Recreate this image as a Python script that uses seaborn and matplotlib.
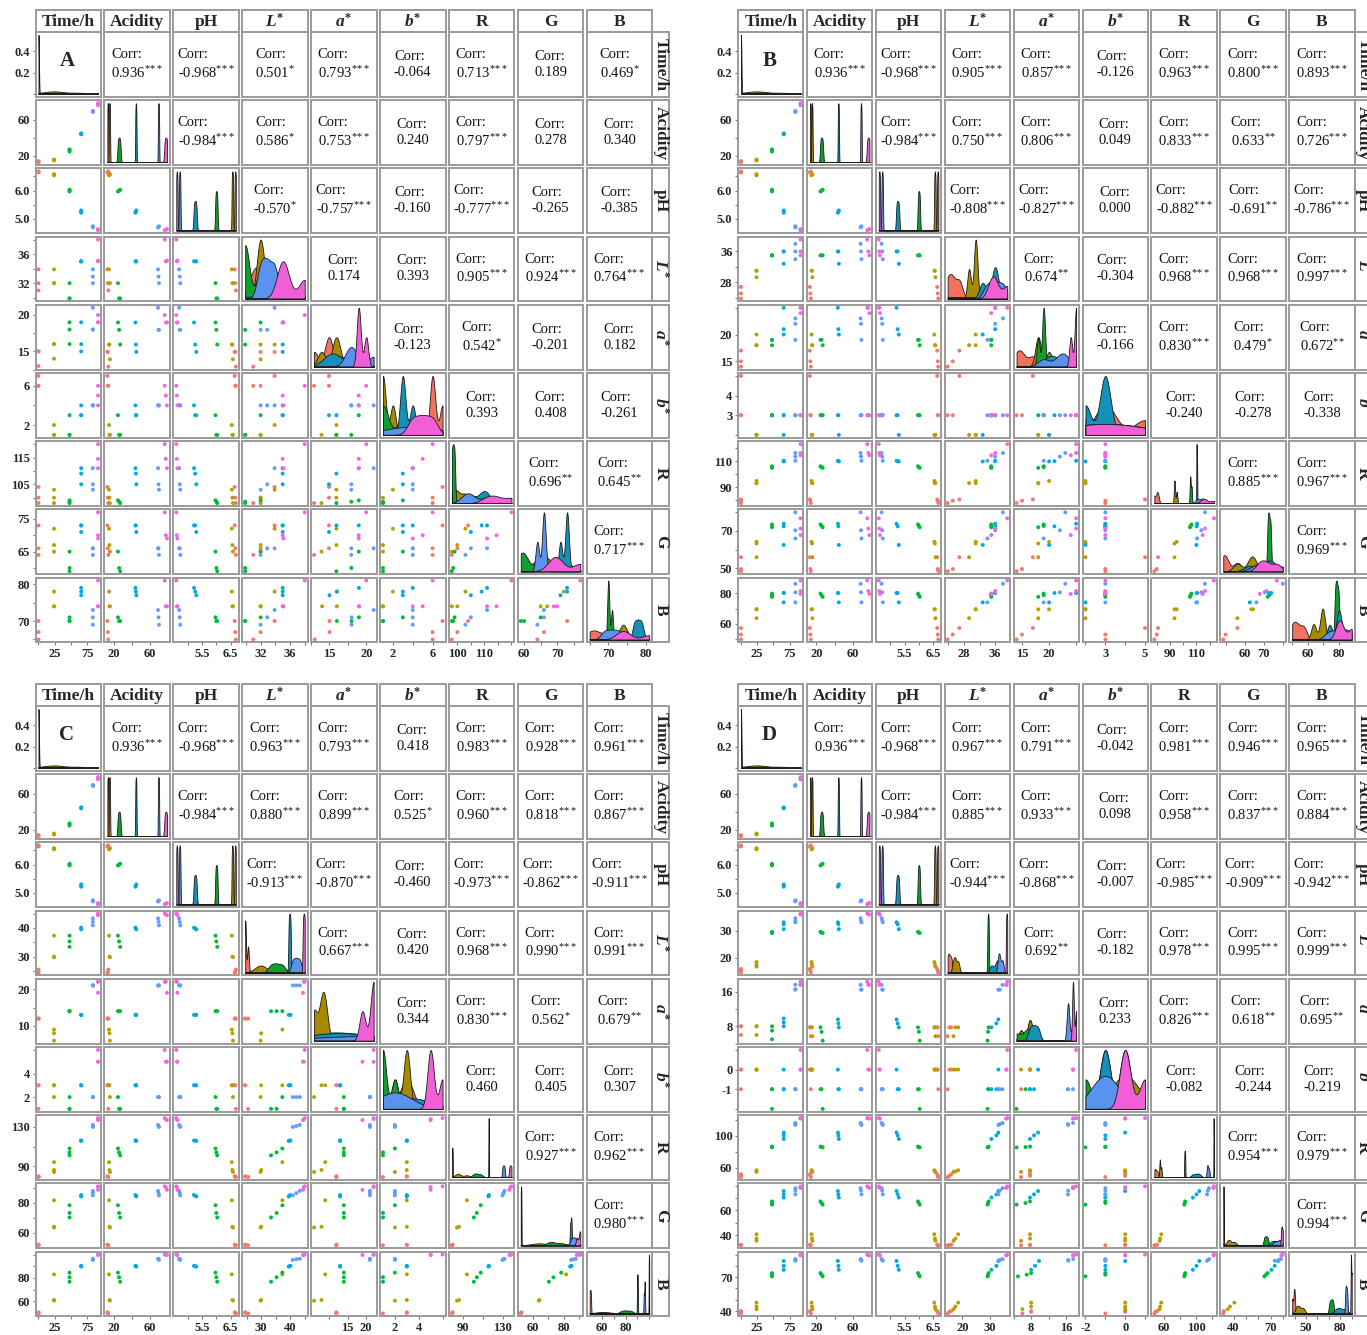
import numpy as np
import pandas as pd
import matplotlib.pyplot as plt
import seaborn as sns

sns.set_theme(style='ticks')
plt.rcParams['font.family'] = ['Liberation Serif', 'DejaVu Serif']
plt.rcParams['mathtext.fontset'] = 'custom'
plt.rcParams['mathtext.rm'] = 'Liberation Serif'
plt.rcParams['mathtext.it'] = 'Liberation Serif:italic:bold'
plt.rcParams['mathtext.bf'] = 'Liberation Serif:bold'

# ---------------- data ----------------
variables = ['Time/h', 'Acidity', 'pH', 'L*', 'a*', 'b*', 'R', 'G', 'B']
strip_labels = ['Time/h', 'Acidity', 'pH', r'$L^{\mathbf{*}}$', r'$a^{\mathbf{*}}$',
                r'$b^{\mathbf{*}}$', 'R', 'G', 'B']
group_names = ['0', '24', '48', '66', '84', '92']
groups = [g for g in group_names for _ in range(3)]
point_colors = ['#F8766D', '#B79F00', '#00BA38', '#00A9E0', '#619CFF', '#F564E3']
fill_colors = ['#F4705F', '#A68A00', '#0E9F2E', '#1590B8', '#5A92F0', '#F05FD8']

time_h = [0, 0, 0, 24, 24, 24, 48, 48, 48, 66, 66, 66, 84, 84, 84, 92, 92, 92]
acidity = [13.0, 13.5, 14.0, 14.8, 15.3, 15.8, 24.6, 25.8, 27.0,
           43.7, 44.2, 44.7, 68.5, 69.0, 69.5, 75.8, 77.0, 78.2]
ph = [6.64, 6.66, 6.68, 6.54, 6.56, 6.58, 5.97, 6.0, 6.03,
      5.22, 5.26, 5.30, 4.70, 4.72, 4.74, 4.60, 4.62, 4.64]

# panel A
L_A = [33.9, 32.0, 31.0, 33.9, 32.0, 32.0, 32.0, 29.9, 29.9, 35.0, 35.0, 35.0, 33.9, 32.9, 32.0, 38.0, 35.0, 35.1]
a_A = [15, 15, 13, 16, 16, 14, 19, 18, 16, 19, 16, 15, 21, 18, 18, 20, 19, 19]
b_A = [7, 6, 6, 2, 1, 1, 3, 1, 1, 4, 3, 3, 4, 4, 4, 6, 5, 4]
R_A = [104, 100, 98, 103, 100, 98, 99, 98.5, 98, 111, 109, 105, 111, 105, 103, 120, 114.5, 111]
G_A = [73, 66, 64, 72, 67, 65, 65, 60, 59, 73, 73, 71, 66, 66, 64, 77, 70, 69]
B_A = [70, 67, 65, 78, 74, 74, 71, 70, 70, 79, 78, 77, 73, 71, 69, 81, 74, 74]

# panel B
L_B = [26.8, 25.1, 23.8, 31.0, 31.0, 29.3, 35, 35, 35, 36, 36, 32.8, 38, 36, 34, 39.1, 36, 35]
a_B = [17, 15, 14, 20, 18, 18, 19, 19, 18, 25, 21, 20, 23, 22, 19, 25, 25, 24]
b_B = [5, 3, 3, 2, 2, 2, 3, 3, 3, 3, 3, 2, 3, 3, 3, 3, 3, 3]
R_B = [80.8, 79.8, 78.0, 95.0, 93.3, 93.3, 106.3, 105.5, 105.1, 110.5, 110.2, 110.0,
       116.5, 113.7, 110.5, 123.3, 116.5, 114.7]
G_B = [55.9, 49.6, 48.4, 64.2, 63.3, 55.9, 73.5, 72.7, 72.0, 73.9, 72.5, 62.5, 80.0, 70.4, 66.0, 76.8, 71.3, 67.8]
B_B = [57.3, 53.1, 49.9, 69.5, 69.5, 63.7, 79.7, 78.6, 77.6, 80.1, 80.1, 74.0, 86.1, 80.5, 74.0, 88.2, 81.4, 79.5]

# panel C
L_C = [24.5, 24.5, 25.5, 37.3, 30.0, 29.8, 37.3, 35.3, 33.4, 40.1, 39.8, 39.5, 43.3, 42.1, 40.9, 45.0, 44.7, 44.4]
a_C = [12, 12, 12, 9, 8, 6, 14, 14, 14, 13, 13, 13, 21, 21, 21, 22, 22, 19]
b_C = [3, 3, 1, 3, 3, 2, 2, 1, 1, 3, 3, 3, 2, 2, 2, 6, 5, 5]
R_C = [79.6, 79.2, 78.8, 94, 86, 84, 108, 104, 101, 116.2, 116.0, 115.8, 132, 131, 130, 139, 138, 137]
G_C = [52.2, 52.0, 51.8, 81.7, 64.1, 63.6, 78.4, 73.3, 70.3, 85.2, 84.8, 84.3, 88.0, 86.5, 85.0, 91.0, 90.5, 88.7]
B_C = [50.5, 50.0, 49.5, 83.0, 61.0, 60.5, 84.5, 80.5, 76.7, 90.3, 90.0, 89.7, 96.3, 96.0, 95.4, 100.0, 99.8, 99.6]

# panel D
L_D = [16.0, 15.3, 14.7, 18.5, 17.5, 16.8, 29.5, 29.3, 29.1, 33.0, 32.3, 30.5, 34.5, 33.5, 33.0, 36.2, 36.0, 35.8]
a_D = [8, 8, 6, 8, 8, 6, 8, 7, 5, 9.8, 8.9, 8.0, 17.6, 16.5, 16.5, 18.3, 17.6, 17.6]
b_D = [0, 0, -1, 0, 0, 0, -1, -1, -2, 0, -1, -1, -1, -1, -1, 1, 0, 0]
R_D = [52, 50, 48.5, 57, 55.5, 55, 86.5, 86, 85.5, 104, 100.5, 96, 116, 114.5, 113.5, 122, 121.7, 121.5]
G_D = [32.2, 32.0, 31.8, 40.7, 37.2, 35.4, 67.3, 66.0, 64.7, 75.7, 73.0, 70.4, 78.0, 76.0, 73.0, 79.5, 78.8, 78.2]
B_D = [40.0, 39.4, 37.9, 47.5, 44.0, 41.7, 73.6, 72.2, 70.7, 84.3, 80.0, 76.5, 86.0, 85.2, 84.5, 90.0, 89.5, 89.2]

# correlation labels (upper triangle, row by row)
corr_A = ['0.936***', '-0.968***', '0.501*', '0.793***', '-0.064', '0.713***', '0.189', '0.469*',
          '-0.984***', '0.586*', '0.753***', '0.240', '0.797***', '0.278', '0.340',
          '-0.570*', '-0.757***', '-0.160', '-0.777***', '-0.265', '-0.385',
          '0.174', '0.393', '0.905***', '0.924***', '0.764***',
          '-0.123', '0.542*', '-0.201', '0.182',
          '0.393', '0.408', '-0.261',
          '0.696**', '0.645**',
          '0.717***']
corr_B = ['0.936***', '-0.968***', '0.905***', '0.857***', '-0.126', '0.963***', '0.800***', '0.893***',
          '-0.984***', '0.750***', '0.806***', '0.049', '0.833***', '0.633**', '0.726***',
          '-0.808***', '-0.827***', '0.000', '-0.882***', '-0.691**', '-0.786***',
          '0.674**', '-0.304', '0.968***', '0.968***', '0.997***',
          '-0.166', '0.830***', '0.479*', '0.672**',
          '-0.240', '-0.278', '-0.338',
          '0.885***', '0.967***',
          '0.969***']
corr_C = ['0.936***', '-0.968***', '0.963***', '0.793***', '0.418', '0.983***', '0.928***', '0.961***',
          '-0.984***', '0.880***', '0.899***', '0.525*', '0.960***', '0.818***', '0.867***',
          '-0.913***', '-0.870***', '-0.460', '-0.973***', '-0.862***', '-0.911***',
          '0.667***', '0.420', '0.968***', '0.990***', '0.991***',
          '0.344', '0.830***', '0.562*', '0.679**',
          '0.460', '0.405', '0.307',
          '0.927***', '0.962***',
          '0.980***']
corr_D = ['0.936***', '-0.968***', '0.967***', '0.791***', '-0.042', '0.981***', '0.946***', '0.965***',
          '-0.984***', '0.885***', '0.933***', '0.098', '0.958***', '0.837***', '0.884***',
          '-0.944***', '-0.868***', '-0.007', '-0.985***', '-0.909***', '-0.942***',
          '0.692**', '-0.182', '0.978***', '0.995***', '0.999***',
          '0.233', '0.826***', '0.618**', '0.695**',
          '-0.082', '-0.244', '-0.219',
          '0.954***', '0.979***',
          '0.994***']

# ticks: (positions, labelled on y axis, labelled on x axis)
ticks_shared = {'Time/h': ([0, 25, 50, 75], [], [25, 75]),
                'Acidity': ([20, 40, 60], [20, 60], [20, 60]),
                'pH': ([5.0, 5.5, 6.0, 6.5], [5.0, 6.0], [5.5, 6.5])}
ticks_A = {'L*': ([30, 32, 34, 36, 38], [32, 36], [32, 36]),
           'a*': ([12.5, 15, 17.5, 20], [15, 20], [15, 20]),
           'b*': ([2, 4, 6], [2, 6], [2, 6]),
           'R': ([100, 105, 110, 115, 120], [105, 115], [100, 110]),
           'G': ([60, 65, 70, 75], [65, 75], [60, 70]),
           'B': ([65, 70, 75, 80], [70, 80], [70, 80])}
ticks_B = {'L*': ([24, 28, 32, 36], [28, 36], [28, 36]),
           'a*': ([15, 20, 25], [15, 20], [15, 20]),
           'b*': ([2, 3, 4, 5], [3, 4], [3, 5]),
           'R': ([80, 90, 100, 110, 120], [90, 110], [90, 110]),
           'G': ([50, 60, 70, 80], [50, 70], [60, 70]),
           'B': ([50, 60, 70, 80], [60, 80], [60, 80])}
ticks_C = {'L*': ([25, 30, 35, 40, 45], [30, 40], [30, 40]),
           'a*': ([10, 15, 20], [10, 20], [15, 20]),
           'b*': ([2, 4, 6], [2, 4], [2, 4]),
           'R': ([90, 110, 130], [90, 130], [90, 130]),
           'G': ([60, 70, 80, 90], [60, 80], [60, 80]),
           'B': ([60, 70, 80, 90, 100], [60, 80], [60, 80])}
ticks_D = {'L*': ([20, 30], [20, 30], [20, 30]),
           'a*': ([4, 8, 12, 16], [8, 16], [8, 16]),
           'b*': ([-2, -1, 0, 1], [-1, 0], [-2, 0]),
           'R': ([60, 80, 100, 120], [60, 100], [60, 100]),
           'G': ([40, 50, 60, 70, 80], [40, 60], [40, 70]),
           'B': ([40, 50, 60, 70, 80, 90], [40, 70], [50, 80])}

panels = [
    ('A', (35.5, 10), [L_A, a_A, b_A, R_A, G_A, B_A], ticks_A, corr_A),
    ('B', (738, 10), [L_B, a_B, b_B, R_B, G_B, B_B], ticks_B, corr_B),
    ('C', (35.5, 684), [L_C, a_C, b_C, R_C, G_C, B_C], ticks_C, corr_C),
    ('D', (738, 684), [L_D, a_D, b_D, R_D, G_D, B_D], ticks_D, corr_D),
]

# ---------------- layout ----------------
W, H = 1367, 1335
PX, PY = 68.9, 68.2
CW, CH = 65.5, 64.8
STRIP, RSW = 22, 17
BORDER = '#9a9a9a'

fig = plt.figure(figsize=(W / 100, H / 100), dpi=100)


def box(x, y, w, h):
    return [x / W, 1 - (y + h) / H, w / W, h / H]


def nrd0(x):
    # R's default bandwidth rule (as used by geom_density)
    hi = np.std(x, ddof=1)
    q75, q25 = np.percentile(x, [75, 25])
    lo = min(hi, (q75 - q25) / 1.34)
    if not lo:
        lo = hi or abs(x[0]) or 1.0
    return 0.9 * lo * len(x) ** -0.2


def density(vals, lo, hi):
    grid = np.linspace(lo, hi, 512)
    bw = nrd0(vals)
    d = np.exp(-0.5 * ((grid[:, None] - vals[None, :]) / bw) ** 2).sum(1)
    return grid, d / (len(vals) * bw * np.sqrt(2 * np.pi))


def fmt(var, v):
    return f'{v:.1f}' if var == 'pH' else f'{v:g}'


def style_box(ax):
    for s in ax.spines.values():
        s.set_visible(True)
        s.set_color(BORDER)
        s.set_linewidth(1.4)


for letter, (ox, oy), extra, tk, corrs in panels:
    df = pd.DataFrame(dict(zip(variables, [time_h, acidity, ph] + extra)))
    df['group'] = groups
    ticks = {**ticks_shared, **tk}
    rng = {v: (df[v].min(), df[v].max()) for v in variables}
    lims = {v: (lo - 0.05 * (hi - lo), hi + 0.05 * (hi - lo)) for v, (lo, hi) in rng.items()}
    k = 0
    for i, vy in enumerate(variables):
        for j, vx in enumerate(variables):
            ax = fig.add_axes(box(ox + j * PX, oy + STRIP + i * PY, CW, CH))
            style_box(ax)
            if i > j:
                sns.scatterplot(data=df, x=vx, y=vy, hue='group', hue_order=group_names,
                                palette=dict(zip(group_names, point_colors)),
                                s=8, linewidth=0, legend=False, ax=ax)
                ax.set_ylim(lims[vy])
                ax.set_xlim(lims[vx])
            elif i == j:
                ymax = 0
                for g, c in zip(group_names, fill_colors):
                    vals = df.loc[df['group'] == g, vx].to_numpy(float)
                    xs, d = density(vals, *rng[vx])
                    ax.fill_between(xs, 0, d, facecolor=c, edgecolor='#1a1a1a', linewidth=0.6)
                    ymax = max(ymax, d.max())
                ax.set_ylim(-0.05 * ymax, 1.05 * ymax)
                ax.set_xlim(lims[vx])
                if i == 0:
                    ax.text(0.48, 0.55, letter, transform=ax.transAxes, ha='center', va='center',
                            fontsize=15, fontweight='bold')
            else:
                s = corrs[k]
                k += 1
                val = s.rstrip('*')
                stars = s[len(val):]
                label = f'Corr:\n{val}'
                if stars:
                    label += '$^{' + r'\!'.join(stars) + '}$'
                ax.text(0.5, 0.5, label, transform=ax.transAxes, ha='center', va='center',
                        multialignment='left', fontsize=10.5, linespacing=1.3, color='#111111')
            ax.set_xlabel('')
            ax.set_ylabel('')

            # axis ticks on the outer cells only
            if j == 0 and i == 0:
                ax.set_yticks([0, 0.2, 0.4])
                ax.set_yticklabels(['', '0.2', '0.4'], fontweight='bold', fontsize=9)
            elif j == 0:
                pos, ylab, _ = ticks[vy]
                ax.set_yticks(pos)
                ax.set_yticklabels([fmt(vy, p) if p in ylab else '' for p in pos],
                                   fontweight='bold', fontsize=9)
            else:
                ax.set_yticks([])
            if i == 8:
                pos, _, xlab = ticks[vx]
                ax.set_xticks(pos)
                ax.set_xticklabels([fmt(vx, p) if p in xlab else '' for p in pos],
                                   fontweight='bold', fontsize=9)
            else:
                ax.set_xticks([])
            ax.tick_params(length=2.5, width=0.8, color='#777777', pad=1.5)

    # top strips
    for j, lab in enumerate(strip_labels):
        sax = fig.add_axes(box(ox + j * PX, oy, CW, STRIP))
        style_box(sax)
        sax.set_facecolor('white')
        sax.set_xticks([])
        sax.set_yticks([])
        sax.text(0.5, 0.45, lab, transform=sax.transAxes, ha='center', va='center',
                 fontsize=12.5, fontweight='bold')
    # right strips
    for i, lab in enumerate(strip_labels):
        sax = fig.add_axes(box(ox + 8 * PX + CW, oy + STRIP + i * PY, RSW, CH))
        style_box(sax)
        sax.set_facecolor('white')
        sax.set_xticks([])
        sax.set_yticks([])
        sax.text(0.5, 0.5, lab, transform=sax.transAxes, ha='center', va='center',
                 rotation=-90, fontsize=12.5, fontweight='bold')

fig.savefig('out.png', dpi=100, facecolor='white')
